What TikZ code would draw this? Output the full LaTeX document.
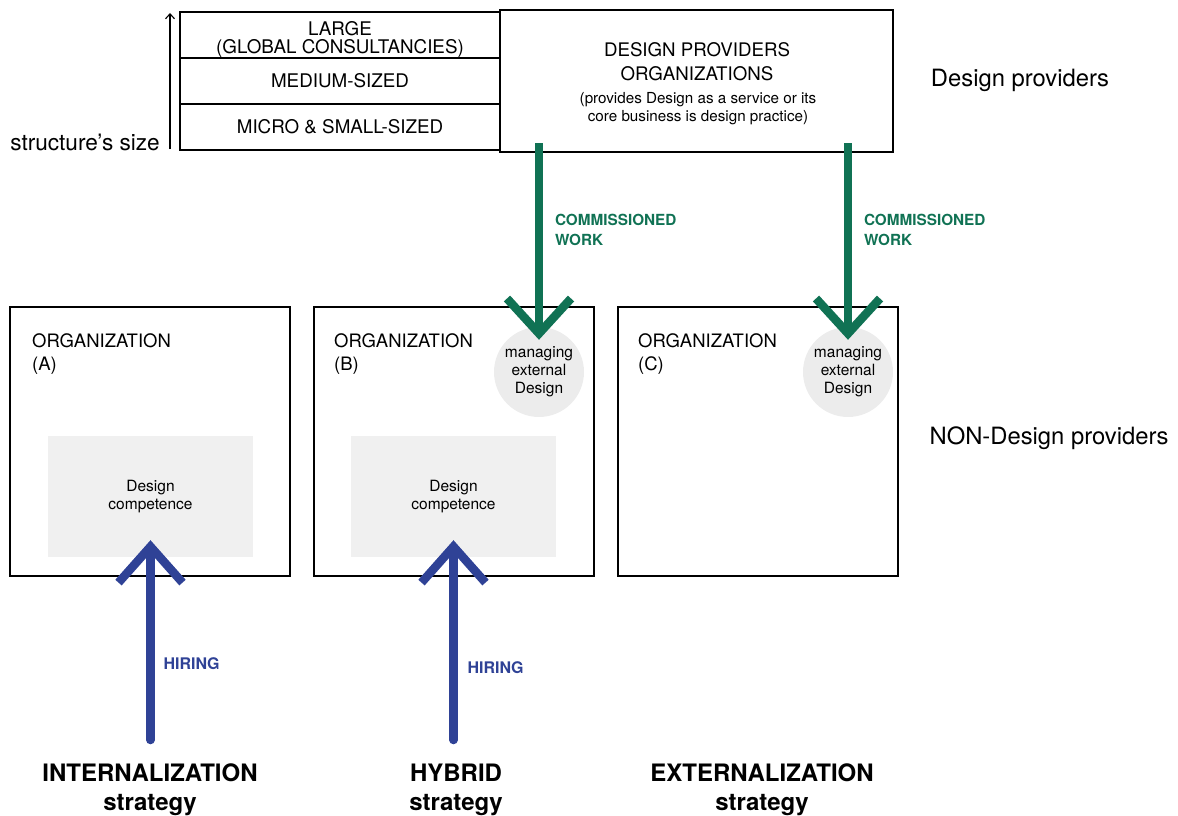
\documentclass[tikz,border=0pt]{standalone}
\usepackage{fontspec}
\setmainfont{TeX Gyre Heros}
\usepackage{tikz}
\usetikzlibrary{arrows.meta}
\usetikzlibrary{positioning}
\definecolor{cwgreen}{HTML}{107254}
\definecolor{hireblue}{HTML}{2F4296}
\definecolor{softgrey}{HTML}{F0F0F0}
\definecolor{circgrey}{HTML}{ECECEC}

\begin{document}
\begin{tikzpicture}[x=1pt,y=-1pt,
	box/.style={draw,line width=1.3pt,inner sep=0pt,outer sep=0pt},
	tier/.style={box,minimum width=320pt,minimum height=46pt,align=center,font=\fontsize{18.8}{18}\selectfont},
	org/.style={box,anchor=north west,minimum width=280pt,minimum height=269pt},
	orglabel/.style={anchor=north west,inner sep=0pt,align=left,font=\fontsize{18.5}{23}\selectfont},
	competence/.style={fill=softgrey,minimum width=205pt,minimum height=121pt,align=center,font=\fontsize{15.5}{18}\selectfont},
	managing/.style={circle,fill=circgrey,minimum size=90pt,inner sep=0pt,align=center,font=\fontsize{15.5}{18}\selectfont},
	side/.style={font=\fontsize{23.8}{28}\selectfont},
	strategy/.style={align=center,font=\bfseries\fontsize{24}{29}\selectfont},
	commission/.style={line width=8.5pt,draw=cwgreen,-{Straight Barb[length=35pt,width=64pt]}},
	hiring/.style={line width=8.5pt,draw=hireblue,line cap=round,-{Straight Barb[length=36pt,width=64pt]}},
	flowlabel/.style={inner sep=0pt,outer sep=0pt,anchor=west,align=left,font=\bfseries\fontsize{15.3}{20}\selectfont}
	]
	\useasboundingbox (0,0) rectangle (1178,816);

	\node[tier] (large) at (340,35) {\rule{0pt}{22pt}LARGE\\(GLOBAL CONSULTANCIES)};
	\node[tier,below=0pt of large] (medium) {MEDIUM-SIZED};
	\node[tier,below=0pt of medium] (small) {MICRO \& SMALL-SIZED};
	\coordinate (sizelo) at (170,149);
	\coordinate (sizehi) at (170,13);
	\draw[line width=1.1pt,-{Straight Barb[length=5pt,width=9pt]}] (sizelo) -- (sizehi);
	\node[anchor=base east,inner sep=0pt,font=\fontsize{22.6}{22}\selectfont] (sizelabel) at (160,150) {structure’s size};

	\node[box,anchor=north west,minimum width=393pt,minimum height=142pt] (dp) at (500,10) {};
	\node[align=center,font=\fontsize{18.7}{24}\selectfont] (dptitle) at (697,62) {DESIGN PROVIDERS\\ORGANIZATIONS};
	\node[align=center,font=\fontsize{15.2}{18}\selectfont] (dpnote) at (698,108.5) {(provides Design as a service or its\\core business is design practice)};
	\node[side] (provlabel) at (1020,80) {Design providers};

	\node[org] (orgA) at (10,307) {};
	\node[org] (orgB) at (314,307) {};
	\node[org] (orgC) at (618,307) {};
	\node[orglabel] (orgAname) at (32,333) {ORGANIZATION\\(A)};
	\node[orglabel] (orgBname) at (334,333) {ORGANIZATION\\(B)};
	\node[orglabel] (orgCname) at (638,333) {ORGANIZATION\\(C)};
	\node[side] (nonprovlabel) at (1049,438) {NON-Design providers};

	\node[competence] (compA) at (150.5,496.5) {Design\\competence};
	\node[competence] (compB) at (453.5,496.5) {Design\\competence};
	\node[managing] (mgB) at (539,372) {managing\\external\\Design};
	\node[managing] (mgC) at (848,372) {managing\\external\\Design};

	\draw[commission] ([yshift=9pt]dp.south -| mgB.north) -- ([yshift=-13pt]mgB.north)
		node[flowlabel,text=cwgreen,pos=0.44,right=16pt] {COMMISSIONED\\WORK};
	\draw[commission] ([yshift=9pt]dp.south -| mgC.north) -- ([yshift=-13pt]mgC.north)
		node[flowlabel,text=cwgreen,pos=0.44,right=16pt] {COMMISSIONED\\WORK};

	\coordinate (hireA) at (150.5,740);
	\coordinate (hireB) at (453.5,740);
	\draw[hiring] (hireA) -- ([yshift=17pt]compA.south)
		node[flowlabel,text=hireblue,pos=0.38,right=13pt,font=\bfseries\fontsize{16}{20}\selectfont] {HIRING};
	\draw[hiring] (hireB) -- ([yshift=17pt]compB.south)
		node[flowlabel,text=hireblue,pos=0.36,right=14pt,font=\bfseries\fontsize{16}{20}\selectfont] {HIRING};

	\node[strategy] (intern) at (150,790) {INTERNALIZATION\\strategy};
	\node[strategy] (hybrid) at (456,790) {HYBRID\\strategy};
	\node[strategy] (extern) at (762,790) {EXTERNALIZATION\\strategy};
\end{tikzpicture}
\end{document}
